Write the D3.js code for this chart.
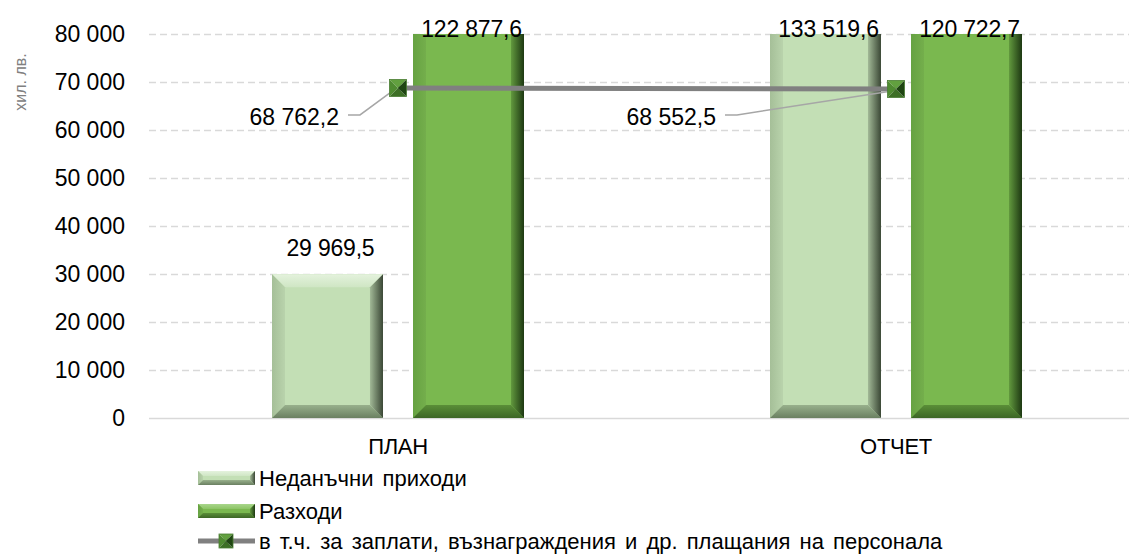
<!DOCTYPE html>
<html>
<head>
<meta charset="utf-8">
<script src="https://cdn.jsdelivr.net/npm/d3@7"></script>
<style>
  body { margin: 0; background: #fff; }
  text { font-family: "Liberation Sans", Arial, sans-serif; fill: #000; }
</style>
</head>
<body>
<div id="chart"></div>
<script>
// данни
const categories = ["ПЛАН", "ОТЧЕТ"];
const seriesNames = [
    "Неданъчни приходи",
    "Разходи",
    "в т.ч. за заплати, възнаграждения и др. плащания на персонала"
];
const nonTaxRevenue = [29969.5, 133519.6];
const expenses = [122877.6, 120722.7];
const salaries = [68762.2, 68552.5];
const yTicks = [0, 10000, 20000, 30000, 40000, 50000, 60000, 70000, 80000];
const yTitle = "хил. лв.";

// layout
const W = 1129, H = 556;
const plot = { left: 149, right: 1145, top: 34, bottom: 418 };
const lineLabelOffsets = [{ dx: -59, dy: 37 }, { dx: -180, dy: 36 }];

const palettes = [
    { face: "#c3dfb5", top: ["#e4f2dd", "#cfe6c4"], left: ["#a5bf98", "#b9d3ac"],
      right: ["#a2b997", "#3a4735"], bottom: ["#98b08c", "#6a8061"] },
    { face: "#7ab84f", top: ["#a9d68c", "#8cc465"], left: ["#66a242", "#74ae4c"],
      right: ["#62993e", "#1d3812"], bottom: ["#5a8e38", "#3c6625"] }
];

const loc = d3.formatLocale({ decimal: ",", thousands: " ", grouping: [3], currency: ["", ""] });
const fmtTick = loc.format(",d");
const fmtVal = loc.format(",.1f");

const svg = d3.select("#chart").append("svg")
    .attr("width", W)
    .attr("height", H);

const defs = svg.append("defs");

// gradients for the bevelled bars
palettes.forEach((p, i) => {
    const sides = {
        top: [0, 0, 0, 1], left: [0, 0, 1, 0],
        right: [0, 0, 1, 0], bottom: [0, 0, 0, 1]
    };
    Object.keys(sides).forEach(s => {
        const c = sides[s];
        const gr = defs.append("linearGradient")
            .attr("id", `g${i}-${s}`)
            .attr("x1", c[0]).attr("y1", c[1]).attr("x2", c[2]).attr("y2", c[3]);
        gr.append("stop").attr("offset", 0).attr("stop-color", p[s][0]);
        gr.append("stop").attr("offset", 1).attr("stop-color", p[s][1]);
    });
});

defs.append("clipPath").attr("id", "plotClip")
    .append("rect")
    .attr("x", plot.left).attr("y", plot.top)
    .attr("width", plot.right - plot.left)
    .attr("height", plot.bottom - plot.top + 1);

const y = d3.scaleLinear()
    .domain([0, 80000])
    .range([plot.bottom, plot.top]);

const x0 = d3.scaleBand()
    .domain(categories)
    .range([plot.left, plot.right])
    .paddingInner(0.494)
    .paddingOuter(0.247);

const x1 = d3.scaleBand()
    .domain([0, 1])
    .range([0, x0.bandwidth()])
    .paddingInner(0.213);

function bevel(g, x, yy, w, h, i, b) {
    b = Math.min(b, w / 2, h / 2);
    g.append("rect").attr("x", x).attr("y", yy).attr("width", w).attr("height", h)
        .attr("fill", palettes[i].face);
    const pts = {
        top: [[x, yy], [x + w, yy], [x + w - b, yy + b], [x + b, yy + b]],
        left: [[x, yy], [x + b, yy + b], [x + b, yy + h - b], [x, yy + h]],
        right: [[x + w, yy], [x + w, yy + h], [x + w - b, yy + h - b], [x + w - b, yy + b]],
        bottom: [[x, yy + h], [x + w, yy + h], [x + w - b, yy + h - b], [x + b, yy + h - b]]
    };
    ["top", "left", "bottom", "right"].forEach(s => {
        g.append("polygon")
            .attr("points", pts[s].map(p => p.join(",")).join(" "))
            .attr("fill", `url(#g${i}-${s})`);
    });
}

function marker(g, cx, cy, s) {
    const h = s / 2;
    const faces = [
        { c: "#62a03f", p: [[cx - h, cy - h], [cx + h, cy - h], [cx, cy]] },
        { c: "#4f8b31", p: [[cx - h, cy - h], [cx - h, cy + h], [cx, cy]] },
        { c: "#3d6f26", p: [[cx - h, cy + h], [cx + h, cy + h], [cx, cy]] },
        { c: "#1f4512", p: [[cx + h, cy - h], [cx + h, cy + h], [cx, cy]] }
    ];
    faces.forEach(f => {
        g.append("polygon").attr("points", f.p.map(p => p.join(",")).join(" "))
            .attr("fill", f.c);
    });
    g.append("rect").attr("x", cx - h).attr("y", cy - h).attr("width", s).attr("height", s)
        .attr("fill", "none").attr("stroke", "#4a7d33").attr("stroke-width", 0.8);
}

// gridlines
svg.append("g")
    .selectAll("line")
    .data(yTicks)
    .enter().append("line")
    .attr("x1", plot.left).attr("x2", plot.right)
    .attr("y1", d => y(d) + 0.5).attr("y2", d => y(d) + 0.5)
    .attr("stroke", "#d9d9d9")
    .attr("stroke-width", 1.5)
    .attr("stroke-dasharray", d => d === 0 ? null : "7,4");

// bars
const barData = [];
categories.forEach((c, ci) => {
    [nonTaxRevenue, expenses].forEach((arr, si) => {
        barData.push({ cat: c, s: si, value: arr[ci] });
    });
});

const barsG = svg.append("g").attr("clip-path", "url(#plotClip)");
barData.forEach(d => {
    const bx = x0(d.cat) + x1(d.s);
    const top = y(d.value);
    bevel(barsG.append("g"), bx, top, x1.bandwidth(), y(0) - top, d.s, 13);
});

// bar labels
svg.append("g")
    .selectAll("text")
    .data(barData)
    .enter().append("text")
    .attr("x", d => x0(d.cat) + x1(d.s) + x1.bandwidth() / 2 + 3)
    .attr("y", d => Math.max(y(d.value) - 18, plot.top + 3))
    .attr("text-anchor", "middle")
    .style("font-size", "23px")
    .style("letter-spacing", "-0.2px")
    .text(d => fmtVal(d.value));

// line series
const pts = categories.map((c, i) => ({
    x: x0(c) + x0.bandwidth() / 2,
    y: y(salaries[i]),
    v: salaries[i]
}));

svg.append("path")
    .datum(pts)
    .attr("d", d3.line().x(d => d.x).y(d => d.y))
    .attr("fill", "none")
    .attr("stroke", "#808080")
    .attr("stroke-width", 5);

// leader lines + labels
pts.forEach((p, i) => {
    const o = lineLabelOffsets[i];
    const lx = p.x + o.dx, ly = p.y + o.dy;
    svg.append("polyline")
        .attr("points", [[lx + 9, ly - 10], [lx + 21, ly - 10], [p.x - 4, p.y + 2]].map(q => q.join(",")).join(" "))
        .attr("fill", "none")
        .attr("stroke", "#a6a6a6")
        .attr("stroke-width", 1.5);
    svg.append("text")
        .attr("x", lx).attr("y", ly)
        .attr("text-anchor", "end")
        .style("font-size", "23px")
        .style("letter-spacing", "0px")
        .text(fmtVal(p.v));
});

pts.forEach(p => marker(svg.append("g"), p.x, p.y, 17));

// y axis
const yAxis = svg.append("g")
    .attr("transform", `translate(${plot.left},0)`)
    .call(d3.axisLeft(y).tickValues(yTicks).tickFormat(fmtTick).tickSize(0).tickPadding(24));
yAxis.select(".domain").remove();
yAxis.selectAll("text")
    .style("font-size", "23px")
    .style("letter-spacing", "0px")
    .style("font-family", "'Liberation Sans', Arial, sans-serif")
    .attr("fill", "#000");

svg.append("text")
    .attr("transform", `translate(26,82) rotate(-90)`)
    .attr("text-anchor", "middle")
    .style("font-size", "16px")
    .style("fill", "#808080")
    .text(yTitle);

// x axis
const xAxis = svg.append("g")
    .attr("transform", `translate(0,${plot.bottom})`)
    .call(d3.axisBottom(x0).tickSize(0).tickPadding(20));
xAxis.select(".domain").remove();
xAxis.selectAll("text")
    .style("font-size", "22px")
    .style("letter-spacing", "-0.3px")
    .style("font-family", "'Liberation Sans', Arial, sans-serif")
    .attr("fill", "#000");

// legend
const legend = svg.append("g").attr("transform", "translate(198,0)");
const legendY = [478, 511, 541];
[0, 1].forEach(i => {
    bevel(legend.append("g"), 0, legendY[i] - 7, 57, 14, i, 5);
});
legend.append("line")
    .attr("x1", 0).attr("x2", 57)
    .attr("y1", legendY[2]).attr("y2", legendY[2])
    .attr("stroke", "#808080").attr("stroke-width", 5);
marker(legend.append("g"), 28, legendY[2], 14);

legend.selectAll("text.leg")
    .data(seriesNames)
    .enter().append("text")
    .attr("class", "leg")
    .attr("x", 61)
    .attr("y", (d, i) => legendY[i])
    .attr("dy", "0.35em")
    .style("font-size", "22px")
    .style("word-spacing", "3px")
    .text(d => d);
</script>
</body>
</html>
